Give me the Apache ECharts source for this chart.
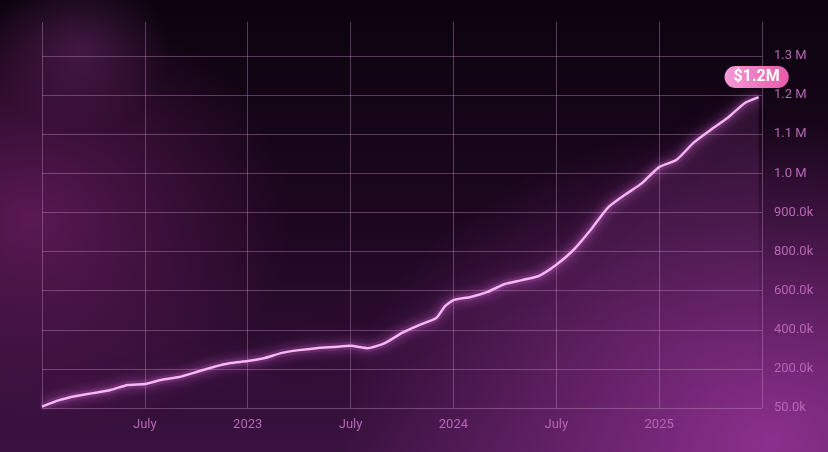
<!doctype html>
<html>
<head>
<meta charset="UTF-8" />
<style>
  html, body { margin: 0; padding: 0; }
  body {
    width: 828px; height: 452px; overflow: hidden;
    background:
      radial-gradient(ellipse 430px 320px at 770px 440px, rgba(160,55,160,0.8), rgba(160,55,160,0) 100%),
      radial-gradient(ellipse 260px 220px at 30px 220px, rgba(110,30,100,0.75), rgba(110,30,100,0) 100%),
      radial-gradient(ellipse 90px 80px at 80px 50px, rgba(120,50,120,0.4), rgba(120,50,120,0) 100%),
      linear-gradient(180deg, #0c030e 0%, #1d0720 50%, #3a1240 100%);
  }
  #chart { width: 828px; height: 452px; }
</style>
</head>
<body>
<div id="chart"></div>
<script src="https://cdn.jsdelivr.net/npm/echarts@6/dist/echarts.min.js"></script>
<script>
  // months since Jan 2022
  var months = [0, 1, 2, 3, 4, 5, 6, 7, 8, 9, 10, 11, 12, 13, 14, 15, 16, 17, 18, 19, 20,
    21, 22, 23, 23.5, 24, 25, 26, 27, 28, 29, 30, 31, 32, 33, 34, 35, 36, 37, 38, 39, 40, 41, 41.8];
  // values in thousands of dollars
  var values = [55, 80, 96, 107, 119, 138, 142, 158, 169, 188, 210, 230, 240, 256, 282, 296, 306, 312, 318, 306, 332,
    384, 424, 460, 520, 552, 568, 594, 634, 654, 676, 732, 804, 855, 912, 945, 975, 1016, 1034, 1078, 1111, 1142, 1180, 1195];
  var yTicks = [50, 200, 400, 600, 800, 900, 1000, 1100, 1200, 1300];
  var yTickLabels = ['50.0k', '200.0k', '400.0k', '600.0k', '800.0k', '900.0k', '1.0 M', '1.1 M', '1.2 M', '1.3 M'];
  var xTickLabels = ['', 'July', '2023', 'July', '2024', 'July', '2025', ''];
  var lastLabel = '$1.2M';

  // the y axis is evenly spaced between uneven tick values
  function toIndex(v) {
    for (var i = 0; i < yTicks.length - 1; i++) {
      if (v <= yTicks[i + 1]) return i + (v - yTicks[i]) / (yTicks[i + 1] - yTicks[i]);
    }
    return yTicks.length - 1;
  }

  var data = months.map(function (m, i) { return [m, toIndex(values[i])]; });

  var chart = echarts.init(document.getElementById('chart'));
  chart.setOption({
    backgroundColor: 'transparent',
    grid: { left: 42, right: 66, top: 22, bottom: 44 },
    xAxis: {
      type: 'value', min: 0, max: 42, interval: 6,
      axisLine: { show: false }, axisTick: { show: false },
      axisLabel: {
        color: '#b766b4', fontSize: 13, fontFamily: 'Roboto', margin: 10,
        formatter: function (v) { return xTickLabels[v / 6] || ''; }
      },
      splitLine: { lineStyle: { color: 'rgba(200,150,200,0.38)' } }
    },
    yAxis: {
      type: 'value', position: 'right', min: 0, max: 9.87, interval: 1,
      axisLine: { show: false }, axisTick: { show: false },
      axisLabel: {
        color: '#b766b4', fontSize: 13, fontFamily: 'Roboto', margin: 12,
        formatter: function (v) { return yTickLabels[v] || ''; }
      },
      splitLine: { showMaxLine: false, lineStyle: { color: 'rgba(200,150,200,0.38)' } }
    },
    series: [{
      // wide soft glow
      type: 'line', data: data, showSymbol: false, smooth: 0.2, animation: false, silent: true,
      lineStyle: { color: 'rgba(230,110,230,0.12)', width: 8, shadowColor: 'rgba(230,100,230,0.9)', shadowBlur: 34 },
      areaStyle: {
        color: new echarts.graphic.LinearGradient(0, 0, 0, 1, [
          { offset: 0, color: 'rgba(220,100,220,0.2)' }, { offset: 1, color: 'rgba(220,100,220,0)' }
        ])
      }
    }, {
      type: 'line', data: data, showSymbol: false, smooth: 0.2, animation: false,
      lineStyle: { color: '#f7b6f4', width: 2.5, shadowColor: 'rgba(245,130,245,1)', shadowBlur: 12 },
      endLabel: {
        show: true, offset: [-42, -20], formatter: lastLabel,
        color: '#fff', fontSize: 16, fontWeight: 'bold', fontFamily: 'Roboto',
        padding: [3, 9], borderRadius: 11,
        backgroundColor: new echarts.graphic.LinearGradient(0, 0, 1, 0, [
          { offset: 0, color: '#f59ad8' }, { offset: 1, color: '#e85aa8' }
        ])
      }
    }]
  });
</script>
</body>
</html>
